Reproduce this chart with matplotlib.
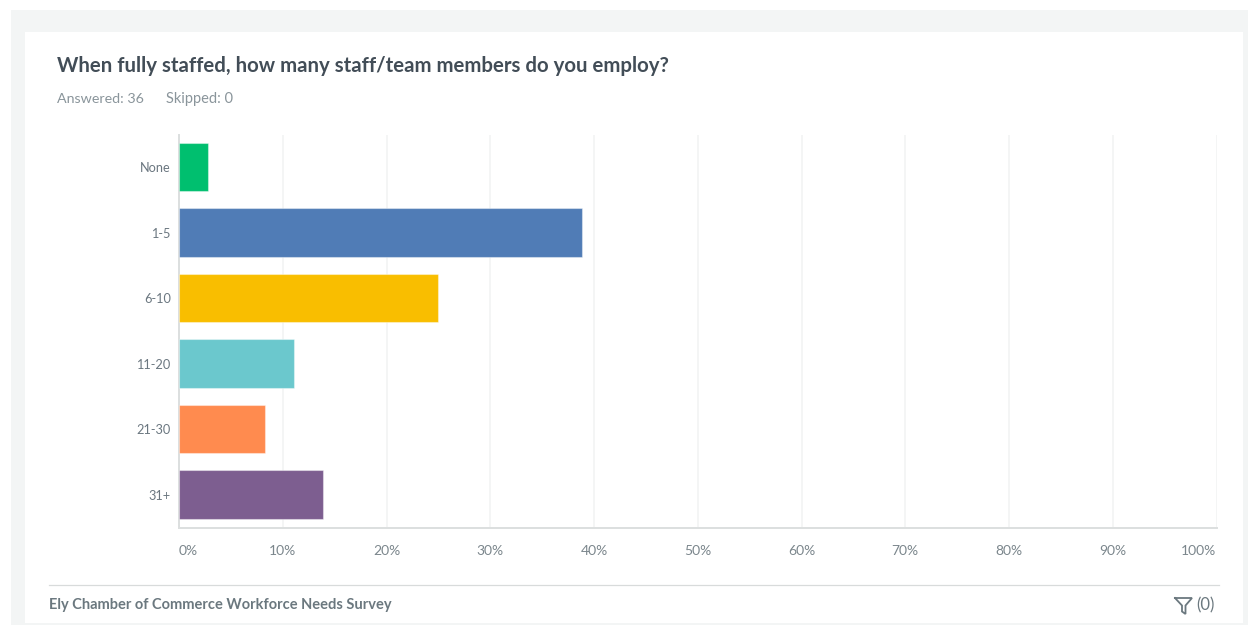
import matplotlib
matplotlib.use('Agg')
import matplotlib.pyplot as plt
from matplotlib.patches import Rectangle
from matplotlib.lines import Line2D

# survey responses, share of 36 answers
categories = ['None', '1-5', '6-10', '11-20', '21-30', '31+']
percents = [2.78, 38.89, 25.0, 11.11, 8.33, 13.89]
bar_colors = ['#00bf6f', '#507cb6', '#f9be00', '#6bc8cd', '#ff8b4f', '#7d5e90']
x_ticks = [0, 10, 20, 30, 40, 50, 60, 70, 80, 90, 100]
x_tick_labels = ['0%', '10%', '20%', '30%', '40%', '50%', '60%', '70%', '80%', '90%', '100%']

title_text = 'When fully staffed, how many staff/team members do you employ?'
answered_text = 'Answered: 36'
skipped_text = 'Skipped: 0'
footer_text = 'Ely Chamber of Commerce Workforce Needs Survey'
filter_text = '(0)'

W, H = 1248, 625
plt.rcParams['font.family'] = ['Lato', 'DejaVu Sans']

fig = plt.figure(figsize=(W / 100, H / 100), dpi=100, facecolor='white')


def fx(px):
    return px / W


def fy(py):
    return 1 - py / H


def add_box(x0, y0, x1, y1, color):
    fig.add_artist(Rectangle((fx(x0), fy(y1)), (x1 - x0) / W, (y1 - y0) / H,
                             transform=fig.transFigure, facecolor=color,
                             edgecolor='none', zorder=0))


# page background and white card
add_box(11, 10, W, H, '#f3f5f5')
add_box(25, 32, 1243, 623, 'white')

# plot area
ax = fig.add_axes([fx(179), fy(528), (1216.5 - 179) / W, (528 - 135) / H])
ax.set_facecolor('none')
ax.set_zorder(2)
ax.barh(range(len(categories)), percents, height=0.737, color=bar_colors,
        edgecolor=(1, 1, 1, 0.4), linewidth=0.8, zorder=3)
ax.set_xlim(0, 100)
ax.set_ylim(5.511, -0.489)
ax.set_yticks(range(len(categories)))
ax.set_yticklabels(categories, fontsize=9.2, color='#6b7780')
ax.set_xticks(x_ticks)
ax.set_xticklabels(x_tick_labels, fontsize=10, color='#7b868c')
ax.tick_params(axis='both', length=0)
ax.tick_params(axis='x', pad=12)
ax.tick_params(axis='y', pad=6)
ax.grid(axis='x', color='#f2f3f3', linewidth=1.2, zorder=0)
ax.set_axisbelow(True)
for side in ['top', 'right']:
    ax.spines[side].set_visible(False)
for side in ['left', 'bottom']:
    ax.spines[side].set_color('#dcdfdf')
    ax.spines[side].set_linewidth(1.4)

# end labels stay inside the plot width
tick_labels = ax.get_xticklabels()
tick_labels[0].set_ha('left')
tick_labels[-1].set_ha('right')

# header
fig.text(fx(57), fy(66), title_text, fontsize=14.7, fontweight='bold', color='#424d57', va='center')
fig.text(fx(57), fy(103), answered_text, fontsize=10.3, color='#8a959b', va='baseline')
fig.text(fx(166), fy(103), skipped_text, fontsize=10.5, color='#8a959b', va='baseline')

# footer
fig.add_artist(Line2D([fx(49), fx(1219)], [fy(584.5), fy(584.5)], color='#d8dbdb', linewidth=0.9))
fig.text(fx(49), fy(605), footer_text, fontsize=10.5, fontweight='bold', color='#6b787f', va='center')
fig.text(fx(1196), fy(605), filter_text, fontsize=12, color='#6b787f', va='center')

# funnel icon next to the filter count
funnel_x = [1175, 1192, 1185.5, 1185.5, 1182, 1182, 1175]
funnel_y = [598, 598, 605.5, 614, 611.5, 605.5, 598]
fig.add_artist(Line2D([fx(v) for v in funnel_x], [fy(v) for v in funnel_y],
                      color='#6b787f', linewidth=1.3, solid_joinstyle='miter'))

fig.savefig('out.png', dpi=100, facecolor='white')
